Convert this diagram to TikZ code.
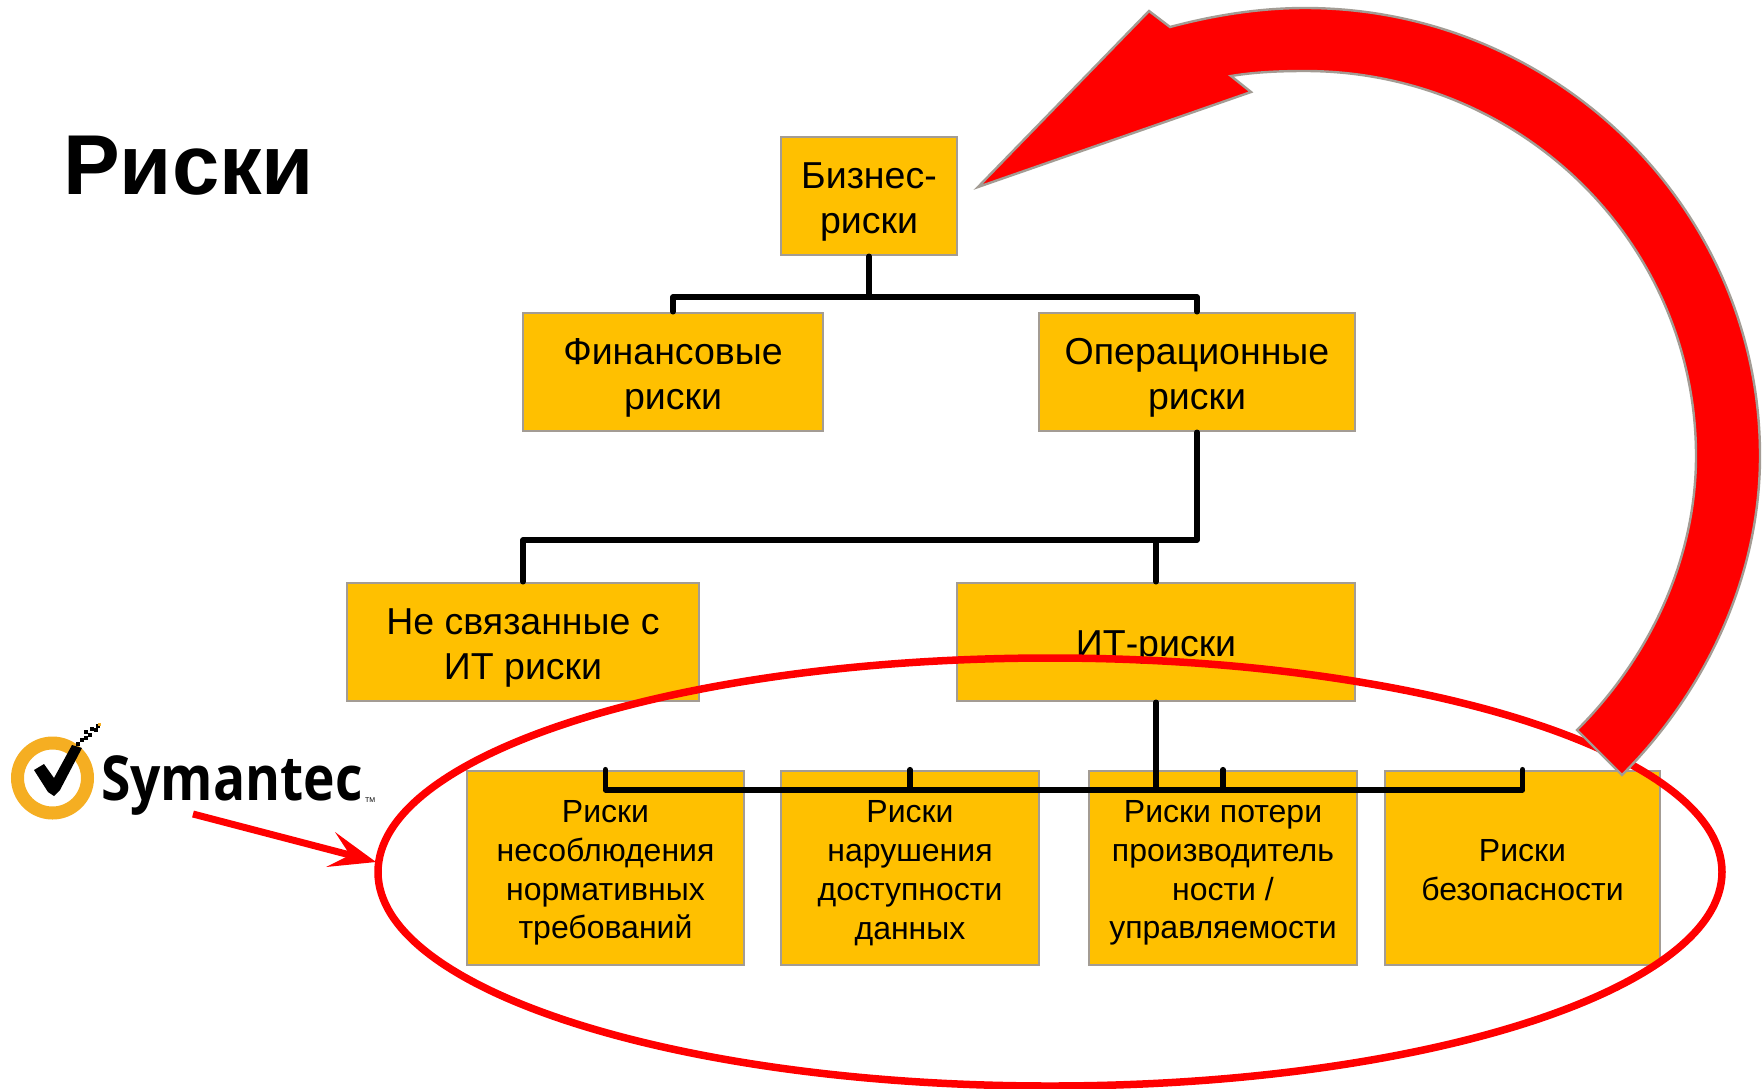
\documentclass[tikz,border=0pt]{standalone}
\usetikzlibrary{shapes.geometric}
\usepackage{fontspec}
\setmainfont{Liberation Sans}
\newfontfamily\logofont{Open Sans}
\definecolor{boxfill}{HTML}{FFC000}
\definecolor{boxline}{HTML}{A39C94}
\definecolor{ringcol}{HTML}{F5AE22}
\definecolor{redcol}{HTML}{FF0000}
\newcommand\lowA{\rule{0pt}{37pt}}
\newcommand\lowB{\rule{0pt}{32pt}}
\newcommand\lowC{\rule{0pt}{26pt}}
\begin{document}
\begin{tikzpicture}[x=1pt,y=-1pt,
  basebox/.style={draw=boxline,fill=boxfill,line width=2.6pt,inner sep=0pt,align=center,text=black},
  riskbox/.style={basebox,font=\fontsize{37.5}{45}\selectfont},
  smallbox/.style={basebox,font=\fontsize{32}{38.8}\selectfont},
  link/.style={draw=black,line width=5.6pt,line join=round,line cap=round},
  redring/.style={draw=redcol,line width=7.5pt,fill=none}]
\useasboundingbox (0,0) rectangle (1764,1088);
\fill[white] (0,0) rectangle (1764,1088);
\node[anchor=base west,inner sep=0pt,font=\fontsize{85}{85}\selectfont\bfseries] (title) at (63,194) {Риски};
% boxes
\node[riskbox,minimum width=176pt,minimum height=118pt] (biz) at (869,196) {\lowA Бизнес-\\риски};
\node[riskbox,minimum width=300pt,minimum height=118pt] (fin) at (673,372) {\lowA Финансовые\\риски};
\node[riskbox,minimum width=316pt,minimum height=118pt] (oper) at (1197,372) {\lowA Операционные\\риски};
\node[riskbox,minimum width=352pt,minimum height=118pt] (nonit) at (523,642) {\lowA Не связанные с\\ИТ риски};
\node[riskbox,minimum width=398pt,minimum height=118pt] (it) at (1156,642) {\rule{0pt}{36pt}ИТ-риски};
\node[smallbox,minimum width=277pt,minimum height=194pt] (r1) at (605.5,868) {\lowB Риски\\несоблюдения\\нормативных\\требований};
\node[smallbox,minimum width=258pt,minimum height=194pt] (r2) at (910,868) {\lowB Риски\\нарушения\\доступности\\данных};
\node[smallbox,minimum width=268pt,minimum height=194pt] (r3) at (1223,868) {\lowB Риски потери\\производитель\\ности /\\управляемости};
\node[smallbox,minimum width=275pt,minimum height=194pt] (r4) at (1522.5,868) {\lowC Риски\\безопасности};
% connectors
\coordinate (bus1) at (869,297);
\coordinate (bus2) at (1197,540);
\coordinate (bus3) at (1156,790);
\draw[link] (biz.south) -- (bus1);
\draw[link] (fin.north) |- (bus1) -| (oper.north);
\draw[link] (oper.south) -- (bus2) -| (nonit.north);
\draw[link] (it.north) -- (it.north |- bus2);
\draw[link] (it.south) -- (bus3);
\draw[link] (r1.north) |- (bus3) -| (r4.north);
\draw[link] (r2.north) -- (r2.north |- bus3);
\draw[link] (r3.north) -- (r3.north |- bus3);
% ellipse
\node[redring,ellipse,minimum width=1344pt,minimum height=428pt,inner sep=0pt] (ring) at (1050,872) {};
% curved arrow
\draw[draw=boxline,fill=redcol,line width=2.4pt,line join=miter]
  (978,187) -- (1149,11) -- (1170,27)
  .. controls (1215,15) and (1260,8) .. (1305,8)
  .. controls (1556,8) and (1760,209) .. (1760,456)
  .. controls (1760,575) and (1707,690) .. (1622,775)
  -- (1577,730)
  .. controls (1650,657) and (1696,559) .. (1696,456)
  .. controls (1696,243) and (1521,71) .. (1305,71)
  .. controls (1280,71) and (1255,72) .. (1231,76)
  -- (1251,92) -- cycle;
% logo
\node[circle,draw=ringcol,line width=13pt,minimum size=70pt,inner sep=0pt,fill=white] (logoring) at (52.5,778) {};
\fill[black] (34,770) -- (44,764) -- (54,778) -- (72,745) -- (82,748) -- (60,790) -- (54,796) -- (48,792) -- cycle;
\foreach \px/\py in {76/742,80/738,84/736,84/730,88/733,90/727,94/728,96/724}{
  \fill[black] (\px,\py) rectangle ++(4,4);
}
\fill[ringcol] (98,723) rectangle ++(3,3);
\node[anchor=base west,inner sep=0pt,font=\logofont\fontsize{62}{62}\selectfont\bfseries,xscale=0.86] (logotext) at (101,800) {Symantec};
\node[anchor=base west,inner sep=0pt,font=\fontsize{7}{7}\selectfont] (tm) at (365,802) {TM};
% small arrow
\coordinate (s1) at (193,814);
\coordinate (tipp) at (376,862);
\draw[draw=redcol,line width=7pt] (s1) -- (350,855);
\fill[redcol] (tipp) -- (335,832) -- (350,855) -- (326,867) -- cycle;
\end{tikzpicture}
\end{document}
